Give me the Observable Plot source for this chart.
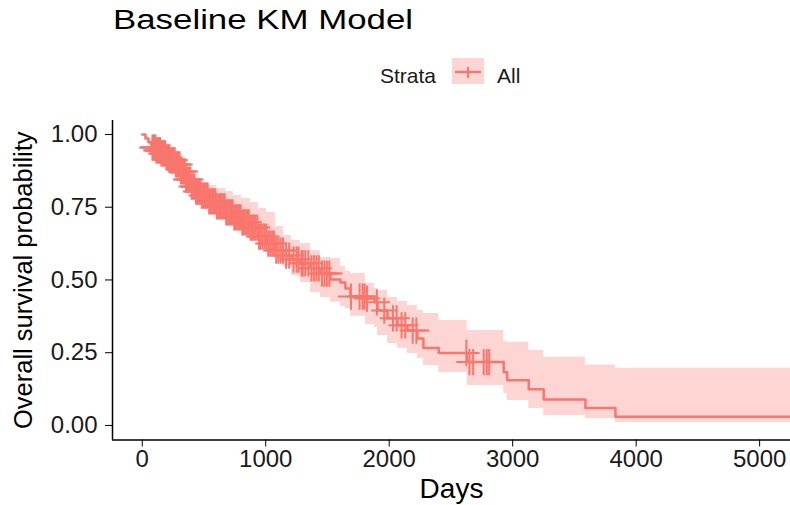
<!DOCTYPE html>
<html>
<head>
<meta charset="utf-8">
<script src="https://cdn.jsdelivr.net/npm/d3@7"></script>
<script src="https://cdn.jsdelivr.net/npm/@observablehq/plot@0.6"></script>
<style>
  body { margin: 0; background: #fff; font-family: "Liberation Sans", Arial, sans-serif; }
  #wrap { position: relative; width: 790px; height: 505px; overflow: hidden; background: #fff; }
  #head { position: relative; height: 90px; }
  #title { position: absolute; left: 113px; top: 7px; font-size: 27px; line-height: 1; color: #000;
           white-space: nowrap; transform-origin: 0 0; transform: scaleX(1.29); }
  .leg { position: absolute; font-size: 21px; line-height: 1; color: #1a1a1a; white-space: nowrap; }
  #legTitle { left: 380px; top: 65px; }
  #legLabel { left: 497px; top: 65px; }
  #legKey { position: absolute; left: 452px; top: 58px; }
</style>
</head>
<body>
<div id="wrap">
  <div id="head">
    <div id="title"></div>
    <div class="leg" id="legTitle"></div>
    <svg id="legKey" width="32" height="26"></svg>
    <div class="leg" id="legLabel"></div>
  </div>
  <div id="chart"></div>
</div>
<script>
// ---- text ----
const titleText = "Baseline KM Model";
const legendTitle = "Strata";
const strataNames = ["All"];
const xLabel = "Days";
const yLabel = "Overall survival probability";

// ---- ticks ----
const xTicks = [0, 1000, 2000, 3000, 4000, 5000];
const yTicks = [0, 0.25, 0.5, 0.75, 1];

// ---- KM steps (days, survival, 95% CI) ----
const times = [0, 26, 50, 74, 107, 147, 188, 228, 269, 309, 350, 390, 431, 471, 536, 601, 674, 738, 803, 876,
  941, 1006, 1078, 1143, 1208, 1281, 1362, 1443, 1524, 1605, 1645, 1686, 1807, 1880, 1905, 1986, 2067, 2148,
  2228, 2277, 2401, 2631, 2927, 2955, 3130, 3251, 3589, 3832, 5250];
const surv = [1, .986, .973, .955, .945, .935, .921, .911, .897, .873, .845, .821, .804, .790, .770, .753, .732,
  .715, .698, .680, .649, .625, .601, .584, .570, .557, .540, .522, .502, .491, .471, .443, .436, .423, .395,
  .368, .344, .326, .299, .266, .249, .218, .183, .155, .124, .089, .060, .030, .030];
const upper = [1, .993, .983, .969, .959, .948, .938, .928, .911, .890, .869, .852, .842, .835, .825, .814, .804,
  .790, .780, .766, .746, .732, .684, .653, .636, .625, .601, .577, .574, .546, .529, .522, .488, .471, .464,
  .440, .426, .412, .395, .385, .361, .326, .289, .286, .258, .234, .208, .197, .197];
const lower = [1, .979, .962, .942, .931, .918, .900, .887, .869, .845, .821, .801, .784, .770, .753, .735, .711,
  .694, .677, .653, .625, .601, .574, .546, .515, .491, .457, .440, .423, .409, .402, .375, .347, .337, .309,
  .282, .265, .247, .230, .206, .182, .137, .110, .086, .058, .034, .024, .010, .010];

// ---- censoring times (days) ----
const censorTimes = [82, 90, 98, 106, 114, 122, 130, 138, 146, 154, 162, 170, 178, 186, 195, 203, 211, 220,
  228, 237, 245, 255, 263, 272, 282, 292, 302, 313, 323, 334, 345, 355, 366, 378, 389, 400, 412, 423, 435, 447,
  458, 470, 482, 494, 506, 518, 530, 542, 555, 567, 580, 592, 604, 617, 630, 642, 655, 668, 680, 693, 706, 719,
  732, 745, 758, 771, 784, 797, 810, 823, 836, 850, 863, 877, 890, 904, 918, 932, 946, 960, 975, 990, 1005,
  1020, 1036, 1052, 1068, 1085, 1102, 1120, 1140, 1165, 1190, 1225, 1250, 1265, 1290, 1300, 1320, 1345, 1370,
  1390, 1410, 1430, 1455, 1475, 1495, 1515, 1690, 1760, 1785, 1800, 1820, 1900, 1960, 2030, 2060, 2100, 2130,
  2190, 2220, 2625, 2650, 2680, 2765, 2790, 2810];

const xDomain = [-241, 5250];
const yDomain = [-0.05, 1.048];
const curveColor = "#F8766D";

const rows = times.map((t, i) => ({time: t, surv: surv[i], upper: upper[i], lower: lower[i], strata: strataNames[0]}));
const censorRows = censorTimes.map(t => ({time: t, surv: surv[d3.bisectRight(times, t) - 1]}));

// header
document.getElementById("title").textContent = titleText;
document.getElementById("legTitle").textContent = legendTitle;
document.getElementById("legLabel").textContent = strataNames[0];
const key = d3.select("#legKey");
key.append("rect").attr("width", 32).attr("height", 26).attr("fill", curveColor).attr("fill-opacity", 0.3);
key.append("line").attr("x1", 3).attr("x2", 29).attr("y1", 14).attr("y2", 14).attr("stroke", curveColor).attr("stroke-width", 2.5);
key.append("line").attr("x1", 16).attr("x2", 16).attr("y1", 9).attr("y2", 20).attr("stroke", curveColor).attr("stroke-width", 2);

const chart = Plot.plot({
  width: 790,
  height: 415,
  marginLeft: 112,
  marginRight: 0,
  marginTop: 30,
  marginBottom: 65.5,
  style: {fontFamily: "Liberation Sans, Arial, sans-serif", color: "#1a1a1a", background: "white", overflow: "visible"},
  x: {domain: xDomain},
  y: {domain: yDomain},
  marks: [
    Plot.areaY(rows, {x: "time", y1: "lower", y2: "upper", curve: "step-after", fill: curveColor, fillOpacity: 0.3}),
    Plot.line(rows, {x: "time", y: "surv", curve: "step-after", stroke: curveColor, strokeWidth: 2.5}),
    Plot.dot(censorRows, {x: "time", y: "surv", symbol: "plus", r: 8.5, stroke: curveColor, strokeWidth: 2}),
    Plot.ruleX([xDomain[0]], {stroke: "#000", strokeWidth: 1.5}),
    Plot.ruleY([yDomain[0]], {stroke: "#000", strokeWidth: 1.5}),
    Plot.axisX(xTicks, {tickSize: 7, tickPadding: 3, fontSize: 24, label: null, tickFormat: d => String(d), stroke: "#000"}),
    Plot.axisY(yTicks, {tickSize: 7, tickPadding: 8, fontSize: 24, label: null, tickFormat: d3.format(".2f"), stroke: "#000"}),
    Plot.text([xLabel], {frameAnchor: "bottom", dy: 49, fontSize: 28, lineAnchor: "middle", fill: "#000"}),
    Plot.text([yLabel], {frameAnchor: "left", rotate: -90, dx: -89, fontSize: 25.5, textAnchor: "middle", lineAnchor: "middle", fill: "#000"})
  ]
});
document.getElementById("chart").appendChild(chart);
</script>
</body>
</html>
